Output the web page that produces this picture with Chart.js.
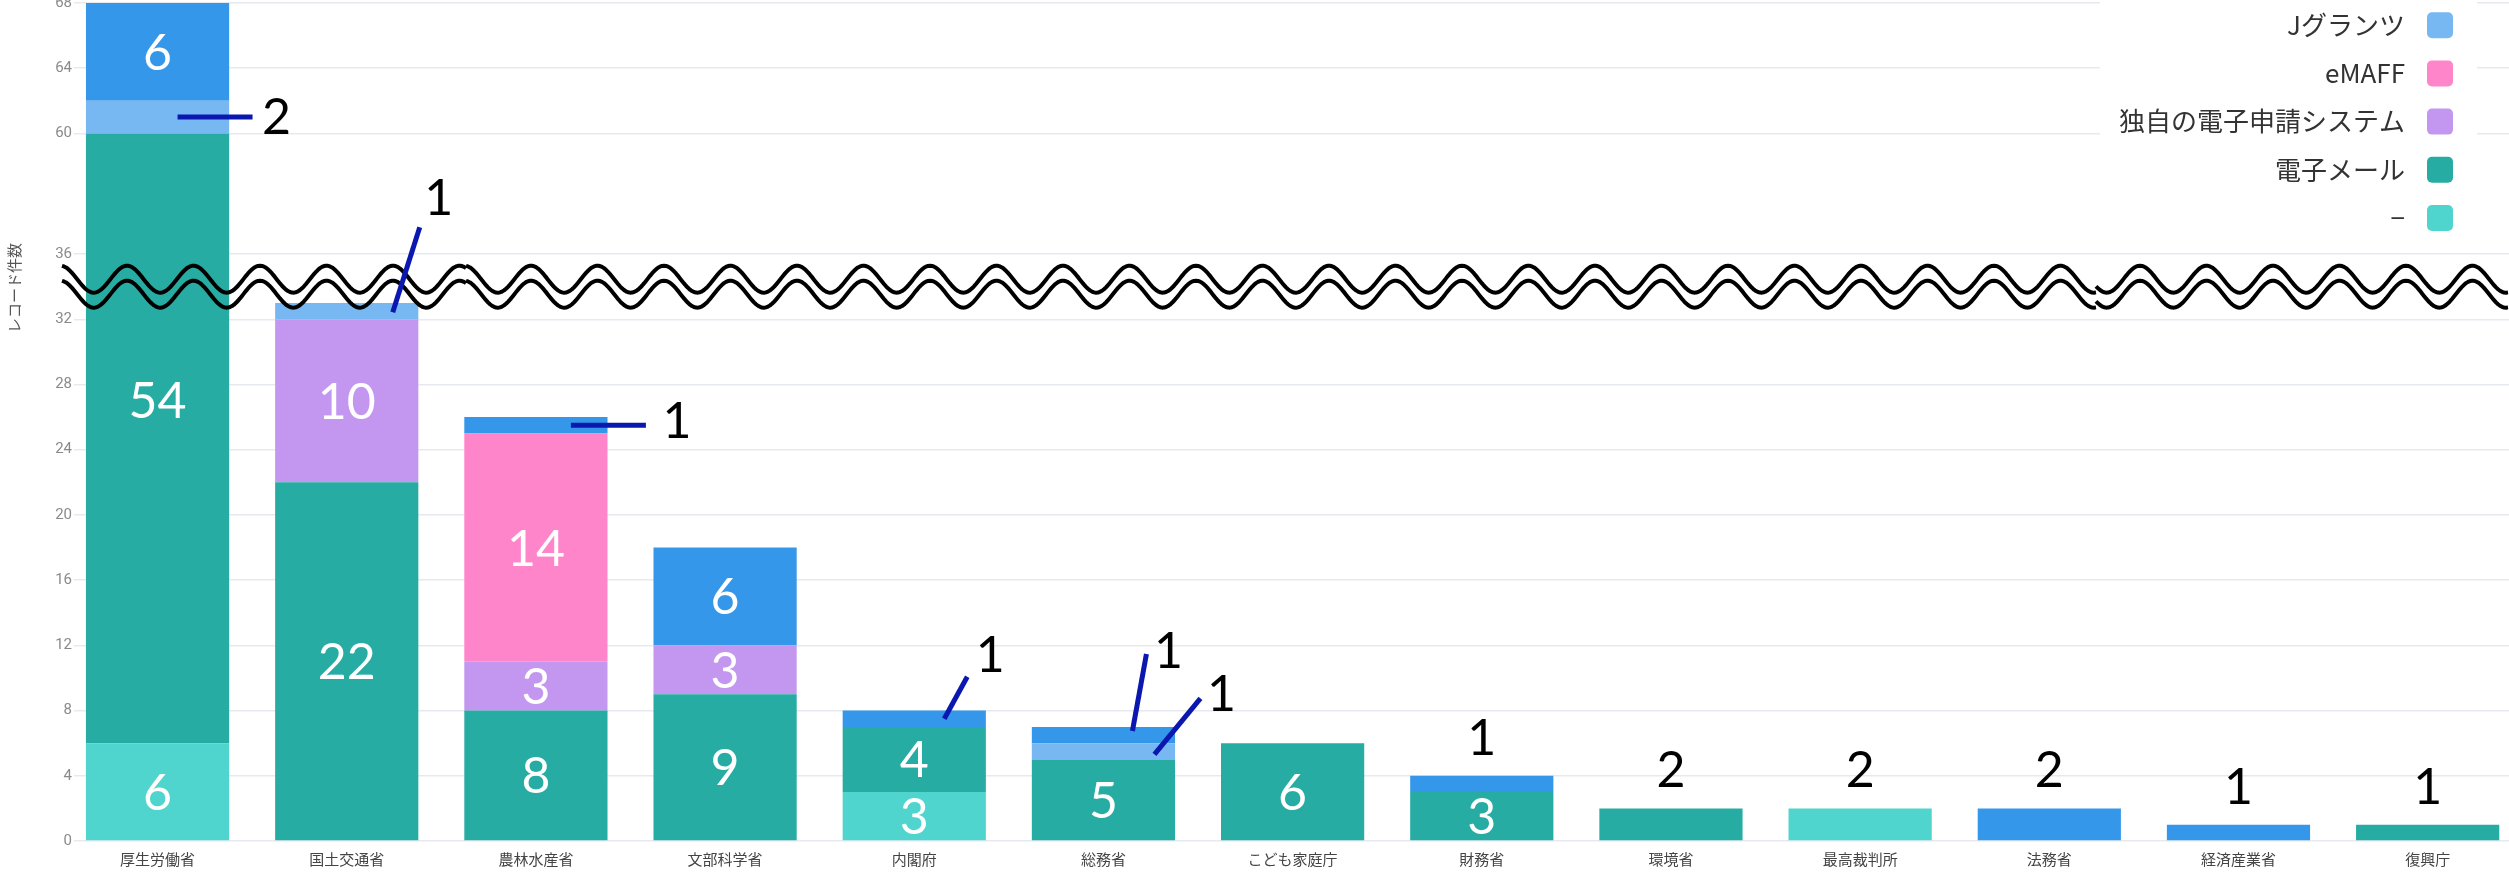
<!DOCTYPE html>
<html lang="ja">
<head>
<meta charset="utf-8">
<script src="https://cdn.jsdelivr.net/npm/chart.js@4.4.1/dist/chart.umd.min.js"></script>
<style>
html, body { margin: 0; padding: 0; background: #fff; overflow: hidden; }
#wrap { position: relative; width: 2509px; height: 872px; }
</style>
</head>
<body>
<div id="wrap"><canvas id="chart"></canvas></div>
<script>
var categories = ['厚生労働省', '国土交通省', '農林水産省', '文部科学省', '内閣府', '総務省', 'こども家庭庁', '財務省', '環境省', '最高裁判所', '法務省', '経済産業省', '復興庁'];

// series, stacked bottom -> top
var noneValues    = [6, 0, 0, 0, 3, 0, 0, 0, 0, 2, 0, 0, 0];
var mailValues    = [54, 22, 8, 9, 4, 5, 6, 3, 2, 0, 0, 0, 1];
var ownSysValues  = [0, 10, 3, 3, 0, 0, 0, 0, 0, 0, 0, 0, 0];
var emaffValues   = [0, 0, 14, 0, 0, 0, 0, 0, 0, 0, 0, 0, 0];
var jgrantsValues = [2, 1, 0, 0, 0, 1, 0, 0, 0, 0, 0, 0, 0];
var otherValues   = [6, 0, 1, 6, 1, 1, 0, 1, 0, 0, 2, 1, 0];

var yTicks = [0, 4, 8, 12, 16, 20, 24, 28, 32, 36, 60, 64, 68];

// broken y axis: 36..60 squeezed into a short gap
var breakLow = 36, breakHigh = 60, breakGap = 7.4;
function squash(v) {
    if (v <= breakLow) return v;
    if (v <= breakHigh) return breakLow + (v - breakLow) * breakGap / (breakHigh - breakLow);
    return breakLow + breakGap + (v - breakHigh);
}
function unsquash(d) {
    if (d <= breakLow) return d;
    if (d <= breakLow + breakGap) return breakLow + (d - breakLow) * (breakHigh - breakLow) / breakGap;
    return d - breakLow - breakGap + breakHigh;
}

class BrokenLinearScale extends Chart.LinearScale {
    getPixelForValue(value) {
        var lo = squash(this.min), hi = squash(this.max);
        return this.getPixelForDecimal((squash(value) - lo) / (hi - lo));
    }
    getValueForPixel(pixel) {
        var lo = squash(this.min), hi = squash(this.max);
        return unsquash(lo + this.getDecimalForPixel(pixel) * (hi - lo));
    }
}
BrokenLinearScale.id = 'brokenLinear';
Chart.register(BrokenLinearScale);

// small values get a leader line: offsets from bar centre / segment middle
var callouts = [
    { ds: 4, i: 0, line: [20, 0, 95, 0], text: [119, -1] },
    { ds: 4, i: 1, line: [46, 1, 73, -84], text: [92, -114] },
    { ds: 5, i: 2, line: [35, 0, 110, 0], text: [141, -5] },
    { ds: 5, i: 4, line: [30, 0, 53, -42], text: [76, -65] },
    { ds: 5, i: 5, line: [29, -4, 43, -81], text: [65, -85] },
    { ds: 4, i: 5, line: [51, 3, 97, -53], text: [118, -58] }
];
// the long 54 segment has its label pulled up a bit
var labelShift = [{ ds: 1, i: 0, dy: -38 }];

var labelFont = 'Lato, "Noto Sans", sans-serif';
var jpFont = '"Noto Sans CJK JP", "Noto Sans", sans-serif';

function findIn(list, ds, i) {
    for (var k = 0; k < list.length; k++) {
        if (list[k].ds === ds && list[k].i === i) return list[k];
    }
    return null;
}

function drawWave(ctx, yc) {
    var segments = [
        { x0: 62, x1: 466, period: 66.5, peak: 127 },
        { x0: 466, x1: 2096, period: 66.5, peak: 531 },
        { x0: 2096, x1: 2509, period: 66.5, peak: 2140 }
    ];
    segments.forEach(function (s) {
        ctx.beginPath();
        for (var x = s.x0; x <= s.x1; x += 2) {
            var y = yc - 13.5 * Math.cos(2 * Math.PI * (x - s.peak) / s.period);
            if (x === s.x0) ctx.moveTo(x, y); else ctx.lineTo(x, y);
        }
        ctx.stroke();
    });
}

var overlayPlugin = {
    id: 'overlay',
    afterDatasetsDraw: function (chart) {
        var ctx = chart.ctx;
        var yScale = chart.scales.y;
        ctx.save();

        // axis break marks
        var yc = yScale.getPixelForValue(34);
        ctx.strokeStyle = '#000';
        ctx.lineWidth = 4;
        ctx.lineJoin = 'round';
        drawWave(ctx, yc - 7.5);
        drawWave(ctx, yc + 7.5);

        // value labels
        var size = 50;
        ctx.font = size + 'px ' + labelFont;
        ctx.textAlign = 'center';
        ctx.textBaseline = 'alphabetic';
        chart.data.datasets.forEach(function (dataset, d) {
            var meta = chart.getDatasetMeta(d);
            meta.data.forEach(function (el, i) {
                var v = dataset.data[i];
                if (!v) return;
                var mid = (el.y + el.base) / 2;
                var txt = String(v);
                if (v >= 3) {
                    var sh = findIn(labelShift, d, i);
                    ctx.fillStyle = '#fff';
                    ctx.fillText(txt, el.x, mid + (sh ? sh.dy : 0) + size * 0.36);
                    return;
                }
                var c = findIn(callouts, d, i);
                ctx.fillStyle = '#000';
                if (c) {
                    ctx.strokeStyle = '#0a18b0';
                    ctx.lineWidth = 5;
                    ctx.lineCap = 'butt';
                    ctx.beginPath();
                    ctx.moveTo(el.x + c.line[0], mid + c.line[1]);
                    ctx.lineTo(el.x + c.line[2], mid + c.line[3]);
                    ctx.stroke();
                    ctx.fillText(txt, el.x + c.text[0], mid + c.text[1] + size * 0.36);
                } else {
                    ctx.fillText(txt, el.x, el.y - 39 + size * 0.36);
                }
            });
        });

        // legend (reversed, top entry runs off the canvas)
        ctx.fillStyle = '#fff';
        ctx.fillRect(2100, 0, 377, 252);
        ctx.font = '26px ' + jpFont;
        ctx.textAlign = 'right';
        ctx.textBaseline = 'middle';
        var items = chart.data.datasets.slice().reverse();
        items.forEach(function (ds, k) {
            var cy = -23 + k * 48.2;
            ctx.fillStyle = '#333';
            ctx.fillText(ds.label, 2405, cy);
            ctx.fillStyle = ds.backgroundColor;
            ctx.beginPath();
            ctx.roundRect(2427, cy - 13, 26, 26, 5);
            ctx.fill();
        });

        // y axis title
        ctx.translate(14, 288);
        ctx.rotate(-Math.PI / 2);
        ctx.font = '15px ' + jpFont;
        ctx.fillStyle = '#555';
        ctx.textAlign = 'center';
        ctx.textBaseline = 'middle';
        ctx.fillText('レコード件数', 0, 0);

        ctx.restore();
    }
};

new Chart(document.getElementById('chart'), {
    type: 'bar',
    data: {
        labels: categories.map(function (c, i) { return i; }),
        datasets: [
            { label: '−', data: noneValues, backgroundColor: '#4fd5cd' },
            { label: '電子メール', data: mailValues, backgroundColor: '#26aca3' },
            { label: '独自の電子申請システム', data: ownSysValues, backgroundColor: '#c397f0' },
            { label: 'eMAFF', data: emaffValues, backgroundColor: '#ff85cb' },
            { label: 'Jグランツ', data: jgrantsValues, backgroundColor: '#77b8f2' },
            { label: 'その他', data: otherValues, backgroundColor: '#3597ea' }
        ]
    },
    options: {
        responsive: true,
        maintainAspectRatio: false,
        animation: false,
        devicePixelRatio: 1,
        layout: { padding: { top: 3, left: 0, right: 0, bottom: 0 } },
        datasets: {
            bar: { categoryPercentage: 1, barPercentage: 0.757, borderWidth: 0 }
        },
        plugins: {
            legend: { display: false },
            tooltip: { enabled: false }
        },
        scales: {
            x: {
                type: 'linear',
                min: -0.41,
                max: 12.43,
                stacked: true,
                offset: false,
                grid: { display: false, drawTicks: false },
                border: { display: false },
                afterBuildTicks: function (scale) {
                    scale.ticks = categories.map(function (c, i) { return { value: i }; });
                },
                afterFit: function (scale) {
                    scale.height = 31;
                    scale.paddingLeft = 0;
                    scale.paddingRight = 0;
                },
                ticks: {
                    autoSkip: false,
                    maxRotation: 0,
                    minRotation: 0,
                    padding: 9,
                    color: '#444',
                    font: { family: jpFont, size: 15 },
                    callback: function (value) { return categories[value]; }
                }
            },
            y: {
                type: 'brokenLinear',
                min: 0,
                max: 68,
                stacked: true,
                border: { display: false },
                grid: { color: '#e6eaf0', lineWidth: 1.5, tickLength: 6 },
                afterBuildTicks: function (scale) {
                    scale.ticks = yTicks.map(function (v) { return { value: v }; });
                },
                afterFit: function (scale) {
                    scale.width = 80;
                    scale.paddingTop = 0;
                    scale.paddingBottom = 0;
                },
                ticks: {
                    padding: 2,
                    color: '#8a8a8a',
                    font: { family: 'Roboto, sans-serif', size: 15 }
                }
            }
        }
    },
    plugins: [overlayPlugin]
});
</script>
</body>
</html>
